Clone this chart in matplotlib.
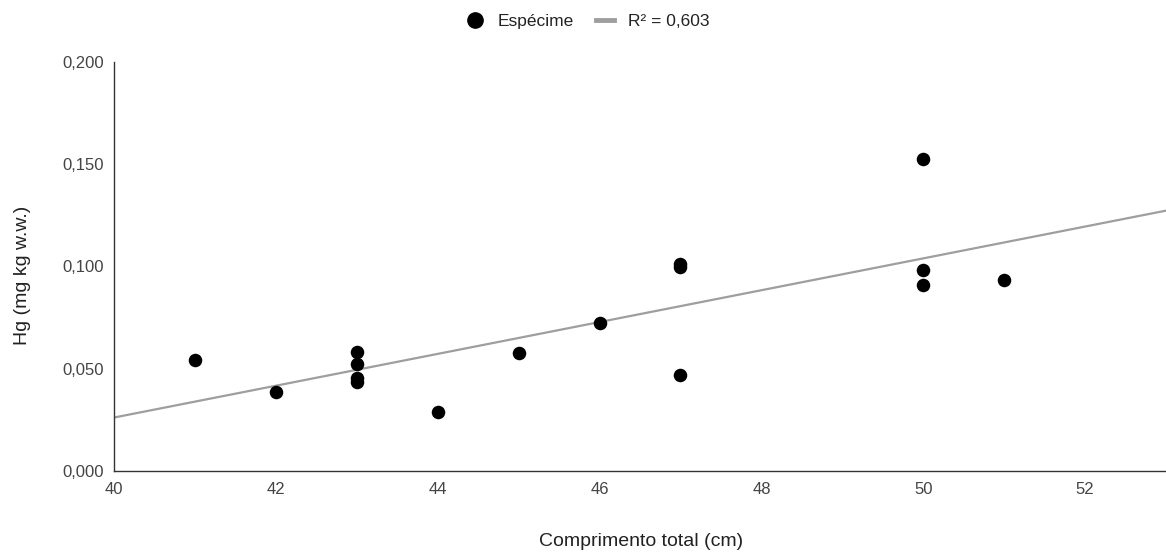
import numpy as np
import matplotlib.pyplot as plt
from matplotlib.lines import Line2D
from matplotlib.ticker import FuncFormatter

plt.rcParams['font.family'] = ['Liberation Sans', 'DejaVu Sans']

# comprimento total (cm) e Hg (mg kg w.w.) de cada espécime
comprimento = [41, 42, 43, 43, 43, 43, 44, 45, 46, 47, 47, 47, 50, 50, 50, 51]
hg = [0.0543, 0.0387, 0.0583, 0.0520, 0.0454, 0.0433, 0.0286, 0.0578,
      0.0722, 0.1013, 0.0998, 0.0466, 0.1525, 0.0980, 0.0907, 0.0931]
r2_label = "R² = 0,603"
x_ticks = [40, 42, 44, 46, 48, 50, 52]
y_ticks = [0.0, 0.05, 0.10, 0.15, 0.20]

x = np.array(comprimento, dtype=float)
y = np.array(hg)

fig = plt.figure(figsize=(11.66, 5.54), dpi=100)
ax = fig.add_axes([0.0978, 0.1504, 0.9022, 0.7377])

# linha de tendencia (minimos quadrados)
slope, intercept = np.polyfit(x, y, 1)
xl = np.array([40, 53])
ax.plot(xl, slope * xl + intercept, color='#9e9e9e', lw=1.6, zorder=2)

ax.scatter(x, y, s=95, color='black', zorder=3, linewidths=0)

ax.set_xlim(40, 53)
ax.set_ylim(0, 0.2)
ax.set_xticks(x_ticks)
ax.set_yticks(y_ticks)
ax.yaxis.set_major_formatter(FuncFormatter(lambda v, p: f"{v:.3f}".replace('.', ',')))
ax.tick_params(length=0, labelsize=12, colors='#444444')
ax.tick_params(axis='x', pad=8)
ax.tick_params(axis='y', pad=7)

for s in ['top', 'right']:
    ax.spines[s].set_visible(False)
for s in ['left', 'bottom']:
    ax.spines[s].set_color('#333333')
    ax.spines[s].set_linewidth(1.0)

fig.text(0.55, 0.022, "Comprimento total (cm)", ha='center', va='center', fontsize=14, color='#222222')
fig.text(0.019, 0.503, "Hg (mg kg w.w.)", ha='center', va='center', rotation=90, fontsize=14, color='#222222')

handles = [
    Line2D([], [], marker='o', color='black', ls='none', markersize=11),
    Line2D([], [], color='#9e9e9e', lw=3.5),
]
fig.legend(handles, ["Espécime", r2_label], loc='center', bbox_to_anchor=(0.504, 0.961),
           ncol=2, frameon=False, fontsize=12.5, handlelength=1.0, columnspacing=1.3,
           handletextpad=0.8, labelcolor='#222222')

fig.savefig('out.png', dpi=100)
